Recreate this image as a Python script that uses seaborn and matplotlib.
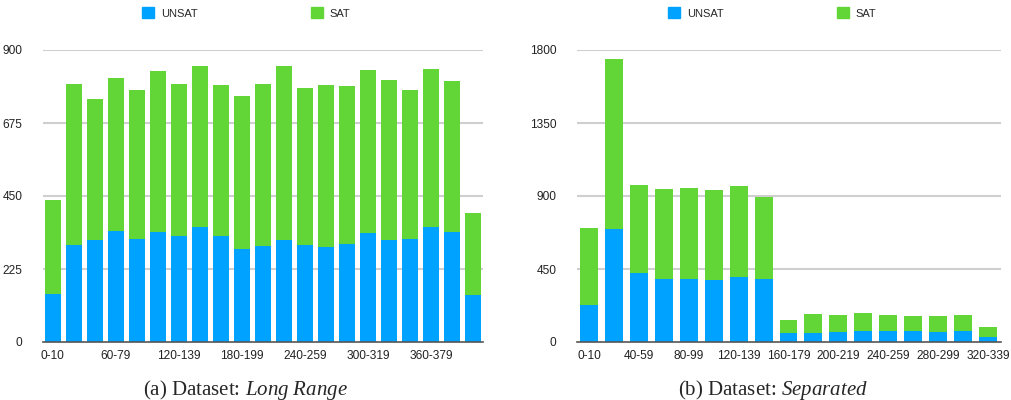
import matplotlib
matplotlib.use("Agg")
import matplotlib.pyplot as plt
from matplotlib.patches import Patch
import seaborn as sns
import pandas as pd

# Long Range dataset (21 bins)
lr_bins = ["0-10"] + [f"{i}-{i + 19}" for i in range(20, 420, 20)]
lr_unsat = [148, 300, 315, 343, 318, 338, 328, 355, 328, 287, 297,
            315, 300, 294, 303, 335, 315, 318, 355, 338, 145]
lr_sat = [289, 494, 433, 470, 458, 496, 466, 495, 463, 470, 497,
          535, 482, 497, 485, 502, 491, 458, 485, 465, 254]

# Separated dataset (17 bins)
sep_bins = ["0-10"] + [f"{i}-{i + 19}" for i in range(20, 340, 20)]
sep_unsat = [226, 695, 423, 386, 386, 380, 399, 386, 54, 54, 60,
             66, 66, 66, 60, 66, 29]
sep_sat = [475, 1048, 543, 555, 561, 555, 561, 506, 80, 117, 105,
           111, 99, 92, 98, 99, 62]

BLUE = "#00a2ff"
GREEN = "#63d637"

sns.set_theme(style="white")
plt.rcParams["font.family"] = ["Liberation Sans", "DejaVu Sans"]
plt.rcParams["mathtext.fontset"] = "custom"
plt.rcParams["mathtext.rm"] = "Liberation Serif"
plt.rcParams["mathtext.it"] = "Liberation Serif:italic"

fig = plt.figure(figsize=(10.11, 4), dpi=100)
ax1 = fig.add_axes([43 / 1011, 58 / 400, 440 / 1011, 292 / 400])
ax2 = fig.add_axes([577 / 1011, 58 / 400, 424 / 1011, 292 / 400])


def draw(ax, bins, unsat, sat, width, ymax, ticks, xlim, label_every):
    df = pd.DataFrame({"bin": bins, "UNSAT": unsat, "SAT": sat})
    df["total"] = df["UNSAT"] + df["SAT"]
    sns.barplot(data=df, x="bin", y="total", color=GREEN, saturation=1,
                width=width, ax=ax, zorder=3, linewidth=0)
    sns.barplot(data=df, x="bin", y="UNSAT", color=BLUE, saturation=1,
                width=width, ax=ax, zorder=3, linewidth=0)
    ax.set_ylim(0, ymax)
    ax.set_xlim(*xlim)
    ax.set_yticks(ticks)
    ax.set_yticklabels([str(t) for t in ticks])
    ax.set_xticks(range(len(bins)))
    ax.set_xticklabels([b if i % label_every == 0 else "" for i, b in enumerate(bins)])
    ax.set_xlabel("")
    ax.set_ylabel("")
    ax.tick_params(axis="both", length=0, labelsize=8.6, colors="#222222")
    ax.tick_params(axis="y", pad=15)
    ax.tick_params(axis="x", pad=6)
    for t in ticks[1:]:
        ax.axhline(t, color="#cfcfcf", lw=1.5, zorder=1)
    for s in ["top", "right", "left"]:
        ax.spines[s].set_visible(False)
    ax.spines["bottom"].set_color("#555555")
    ax.spines["bottom"].set_linewidth(1.2)
    ax.spines["bottom"].set_zorder(4)


draw(ax1, lr_bins, lr_unsat, lr_sat, 0.76, 900, [0, 225, 450, 675, 900],
     (-0.47, 20.48), 3)
draw(ax2, sep_bins, sep_unsat, sep_sat, 0.72, 1800, [0, 450, 900, 1350, 1800],
     (-0.48, 16.52), 2)

handles = [Patch(color=BLUE, label="UNSAT"), Patch(color=GREEN, label="SAT")]
for cx in (246, 772):
    fig.legend(handles=handles, ncol=2, loc="center",
               bbox_to_anchor=(cx / 1011, 1 - 13 / 400), frameon=False,
               fontsize=8, handlelength=1.1, handleheight=1.1,
               handletextpad=0.6, columnspacing=10.2, borderpad=0)

fig.text(245 / 1011, 5 / 400, r"(a) Dataset: $\it{Long\ Range}$",
         ha="center", va="baseline", fontsize=15, family="Liberation Serif")
fig.text(773 / 1011, 5 / 400, r"(b) Dataset: $\it{Separated}$",
         ha="center", va="baseline", fontsize=15, family="Liberation Serif")

fig.savefig("out.png", dpi=100)
